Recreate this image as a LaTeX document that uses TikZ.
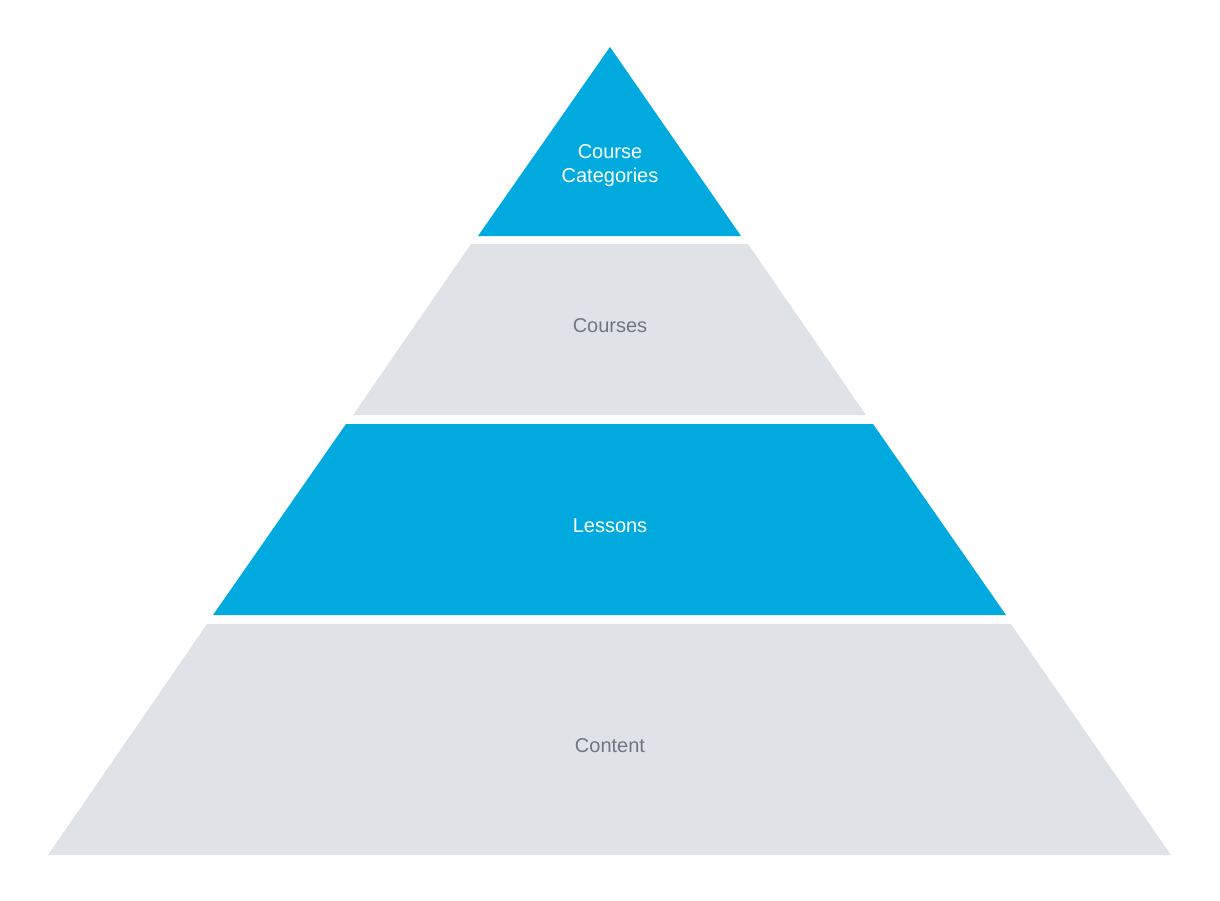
\documentclass[tikz,border=0pt]{standalone}
\usepackage{fontspec}
\setmainfont{Liberation Sans}
\usetikzlibrary{positioning}
\definecolor{tierblue}{HTML}{00AADF}
\definecolor{tiergray}{HTML}{DFE2E7}
\definecolor{labelgray}{HTML}{707580}

\begin{document}
\begin{tikzpicture}[x=0.75pt, y=-0.75pt,
    tierlabel/.style={align=center, font=\fontsize{15}{18}\selectfont}]
        \useasboundingbox (0,0) rectangle (1220,900);
        % Course Categories (top)
        \fill[tierblue] (610,47) -- (741,236) -- (478,236) -- cycle;
        \node[tierlabel, text=white] (categories) at (610,166) {Course\\Categories};
        
        % Courses
        \fill[tiergray] (471,244) -- (748,244) -- (866,415) -- (353,415) -- cycle;
        \node[tierlabel, text=labelgray] (courses) at (610,326) {Courses};
        
        % Lessons
        \fill[tierblue] (346,424) -- (873,424) -- (1006,615) -- (213,615) -- cycle;
        \node[tierlabel, text=white] (lessons) at (610,526) {Lessons};
        
        % Content (base)
        \fill[tiergray] (207,624) -- (1011,624) -- (1171,855) -- (48,855) -- cycle;
        \node[tierlabel, text=labelgray] (content) at (610,746) {Content};
    \end{tikzpicture}
\end{document}
